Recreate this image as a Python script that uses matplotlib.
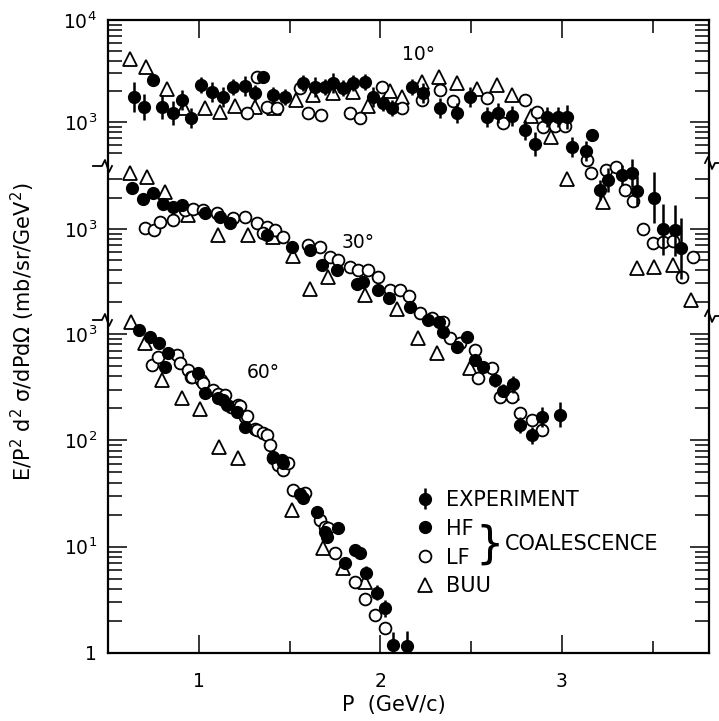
import matplotlib
matplotlib.use("Agg")
import matplotlib.pyplot as plt
import numpy as np
from matplotlib.lines import Line2D
from matplotlib.ticker import FixedLocator, NullFormatter

# ---- 10 deg ----
p10_exp = [0.642, 0.697, 0.796, 0.857, 0.906, 0.956, 1.011, 1.072, 1.132, 1.187, 1.253, 1.309,
           1.408, 1.474, 1.573, 1.639, 1.694, 1.738, 1.793, 1.848, 1.915, 1.959, 2.014, 2.063,
           2.174, 2.234, 2.328, 2.421, 2.493, 2.587, 2.647, 2.725, 2.796, 2.851, 2.917, 2.978,
           3.028, 3.055, 3.130, 3.209, 3.253, 3.331, 3.386, 3.413, 3.507, 3.556, 3.623, 3.656]
y10_exp = [1758, 1403, 1403, 1225, 1644, 1094, 2305, 1967, 1758, 2203, 2254, 1923,
           1840, 1758, 2412, 2203, 2203, 2412, 2154, 2412, 2467, 1758, 1535, 1371,
           2203, 1923, 1371, 1225, 1758, 1120, 1225, 1146, 835, 608, 1120, 1120,
           1120, 569, 520, 215, 270, 302, 316, 211, 180, 89, 87, 58]
e10_exp = [0.15, 0.13, 0.12, 0.12, 0.10, 0.10, 0.08, 0.10, 0.10, 0.08, 0.10, 0.08,
           0.08, 0.08, 0.08, 0.10, 0.08, 0.10, 0.08, 0.08, 0.08, 0.10, 0.08, 0.08,
           0.08, 0.10, 0.10, 0.10, 0.10, 0.10, 0.10, 0.10, 0.10, 0.12, 0.10, 0.10,
           0.12, 0.10, 0.10, 0.10, 0.12, 0.10, 0.14, 0.15, 0.25, 0.25, 0.25, 0.30]
p10_hf = [0.747, 1.353, 3.165]
y10_hf = [2585, 2762, 746]
p10_lf = [1.320, 1.264, 1.375, 1.430, 1.556, 1.601, 1.672, 1.832, 1.887, 2.008, 2.118, 2.229,
          2.328, 2.399, 2.587, 2.675, 2.796, 2.862, 2.895, 2.961, 3.017, 3.138, 3.160, 3.242,
          3.298, 3.347, 3.391, 3.446, 3.501, 3.556, 3.612, 3.661, 3.722]
y10_lf = [2762, 1225, 1403, 1371, 2154, 1225, 1171, 1225, 1094, 2203, 1371, 1644,
          2058, 1590, 1719, 977, 1644, 1253, 893, 914, 914, 424, 316, 338,
          362, 215, 168, 89, 65, 67, 68, 30, 47]
p10_buu = [0.620, 0.708, 0.824, 0.917, 1.033, 1.116, 1.198, 1.309, 1.413, 1.534, 1.628, 1.738,
           1.848, 1.931, 2.052, 2.118, 2.229, 2.322, 2.421, 2.532, 2.642, 2.725, 2.829, 2.939,
           3.028, 3.226, 3.413, 3.507, 3.612, 3.711]
y10_buu = [4150, 3460, 2110, 1371, 1371, 1253, 1434, 1403, 1371, 1644, 1840, 1923,
           1967, 1434, 2014, 1758, 2467, 2762, 2412, 2110, 2305, 1840, 1146, 713,
           276, 164, 37, 38, 40, 18]

# ---- 30 deg ----
p30_exp = [0.631, 0.691, 0.802, 0.857, 0.906, 1.116, 1.171, 1.512, 1.612, 1.678, 1.871, 1.904,
           1.986, 2.047, 2.163, 2.262, 2.322, 2.421, 2.477, 2.565, 2.631, 2.675, 2.730, 2.769,
           2.835, 2.890, 2.989]
y30_exp = [2477, 1943, 1739, 1629, 1701, 1304, 1142, 671, 628, 451, 296, 309,
           259, 217, 178, 133, 128, 73, 92, 47, 35, 28, 32, 13,
           10.4, 15.6, 16.3]
e30_exp = [0.04, 0.04, 0.04, 0.04, 0.04, 0.04, 0.04, 0.04, 0.04, 0.04, 0.04, 0.04,
           0.04, 0.04, 0.04, 0.05, 0.05, 0.05, 0.06, 0.06, 0.06, 0.06, 0.08, 0.08,
           0.08, 0.10, 0.12]
p30_hf = [0.747, 1.033, 1.375, 1.760, 2.344, 2.521]
y30_hf = [2219, 1425, 876, 404, 102, 55]
p30_lf = [0.702, 0.752, 0.785, 0.857, 0.923, 0.967, 1.022, 1.099, 1.187, 1.253, 1.320, 1.375,
          1.353, 1.419, 1.463, 1.601, 1.667, 1.722, 1.766, 1.832, 1.876, 1.931, 1.986, 2.052,
          2.107, 2.157, 2.218, 2.284, 2.344, 2.383, 2.438, 2.521, 2.537, 2.614, 2.658, 2.725,
          2.769, 2.835, 2.890]
y30_lf = [1022, 978, 1168, 1221, 1523, 1557, 1523, 1425, 1276, 1304, 1142, 1045,
          915, 978, 838, 701, 671, 538, 503, 432, 404, 404, 345, 259,
          259, 227, 156, 139, 128, 90, 80, 69, 37, 46, 24, 24,
          17, 14.6, 11.7]
p30_buu = [0.620, 0.713, 0.813, 0.939, 1.105, 1.270, 1.408, 1.518, 1.612, 1.711, 1.915, 2.091,
           2.207, 2.311, 2.493, 2.725]
y30_buu = [3453, 3162, 2270, 1363, 876, 876, 838, 550, 265, 345, 232, 170,
           90, 64, 46, 26.5]

# ---- 60 deg ----
p60_exp = [0.669, 0.730, 0.780, 0.829, 0.813, 0.994, 1.033, 1.132, 1.154, 1.209, 1.253, 1.408,
           1.457, 1.556, 1.573, 1.650, 1.705, 1.766, 1.804, 1.860, 1.920, 1.981, 2.025, 2.069,
           2.146]
y60_exp = [1093, 940, 824, 664, 490, 430, 279, 240, 215, 185, 134, 70,
           65, 31, 29, 21, 12.3, 15, 7.0, 9.3, 5.7, 3.7, 2.65, 1.19,
           1.16]
e60_exp = [0.03, 0.03, 0.03, 0.03, 0.03, 0.03, 0.03, 0.03, 0.03, 0.03, 0.03, 0.03,
           0.03, 0.04, 0.04, 0.04, 0.05, 0.05, 0.05, 0.05, 0.06, 0.07, 0.08, 0.12,
           0.14]
p60_hf = [1.105, 1.463, 1.694, 1.887]
y60_hf = [250, 61, 13.7, 8.7]
p60_lf = [0.741, 0.774, 0.879, 0.895, 0.939, 0.956, 0.961, 1.011, 1.022, 1.077, 1.105, 1.143,
          1.176, 1.215, 1.226, 1.253, 1.264, 1.309, 1.320, 1.353, 1.375, 1.391, 1.408, 1.435,
          1.463, 1.490, 1.518, 1.584, 1.667, 1.694, 1.711, 1.749, 1.860, 1.915, 1.970, 2.025]
y60_lf = [512, 609, 636, 535, 459, 395, 395, 370, 347, 298, 273, 267,
          206, 215, 211, 166, 170, 128, 125, 117, 112, 91, 68, 59,
          53, 61, 34, 32, 18, 15.3, 15, 8.7, 4.7, 3.2, 2.28, 1.72]
p60_buu = [0.625, 0.702, 0.796, 0.906, 1.006, 1.110, 1.215, 1.512, 1.683, 1.793, 1.915]
y60_buu = [1300, 824, 370, 250, 197, 87, 68, 22, 9.7, 6.3, 4.7]

LW = 1.3
MS = 8.5


def draw_panel(ax, p_exp, y_exp, e_exp, p_hf, y_hf, p_lf, y_lf, p_buu, y_buu):
    ax.set_yscale("log")
    buu, = ax.plot(p_buu, y_buu, "^", ls="none", ms=MS + 1, mfc="white", mec="k", mew=LW)
    lf, = ax.plot(p_lf, y_lf, "o", ls="none", ms=MS, mfc="white", mec="k", mew=LW)
    hf, = ax.plot(p_hf, y_hf, "o", ls="none", ms=MS, color="k")
    y = np.array(y_exp, dtype=float)
    f = 10 ** np.array(e_exp)
    exp = ax.errorbar(p_exp, y, yerr=[y - y / f, y * f - y], fmt="o", color="k",
                      ms=MS, elinewidth=1.8, capsize=0)
    return exp, hf, lf, buu


def set_yticks(ax, majors, labels, minors):
    ax.yaxis.set_major_locator(FixedLocator(majors))
    ax.yaxis.set_minor_locator(FixedLocator(minors))
    ax.set_yticks(majors, labels)
    ax.yaxis.set_minor_formatter(NullFormatter())
    ax.tick_params(axis="y", which="both", direction="in", left=True, right=True,
                   width=1.1, labelsize=13.5, pad=8)
    ax.tick_params(axis="y", which="major", length=14)
    ax.tick_params(axis="y", which="minor", length=10)


W, H = 719, 721
fig = plt.figure(figsize=(W / 100, H / 100), dpi=100)
x0, x1, y0, y1 = 108, 709, 20, 653
rect = [x0 / W, 1 - y1 / H, (x1 - x0) / W, (y1 - y0) / H]

ax60 = fig.add_axes(rect)
ax30 = fig.add_axes(rect, sharex=ax60)
ax10 = fig.add_axes(rect, sharex=ax60)

exp60, hf60, lf60, buu60 = draw_panel(ax60, p60_exp, y60_exp, e60_exp, p60_hf, y60_hf,
                                      p60_lf, y60_lf, p60_buu, y60_buu)
draw_panel(ax30, p30_exp, y30_exp, e30_exp, p30_hf, y30_hf, p30_lf, y30_lf, p30_buu, y30_buu)
draw_panel(ax10, p10_exp, y10_exp, e10_exp, p10_hf, y10_hf, p10_lf, y10_lf, p10_buu, y10_buu)

ax60.set_xlim(0.5, 3.81)
ax10.set_ylim(10 ** -2.206, 1e4)
ax30.set_ylim(10 ** -1.077, 10 ** 5.010)
ax60.set_ylim(1, 10 ** 5.955)

set_yticks(ax10, [1e3, 1e4], [r"$\mathregular{10^3}$", r"$\mathregular{10^4}$"],
           [500, 600, 700, 800, 900, 2000, 3000, 4000, 5000, 6000, 7000, 8000, 9000])
set_yticks(ax30, [1e3], [r"$\mathregular{10^3}$"],
           [200, 300, 400, 500, 600, 700, 800, 900, 2000, 3000])
set_yticks(ax60, [1, 10, 100, 1000],
           ["1", r"$\mathregular{10^1}$", r"$\mathregular{10^2}$", r"$\mathregular{10^3}$"],
           [2, 3, 4, 5, 6, 7, 8, 9, 20, 30, 40, 50, 60, 70, 80, 90,
            200, 300, 400, 500, 600, 700, 800, 900])

for ax in (ax10, ax30):
    ax.patch.set_visible(False)
    for s in ax.spines.values():
        s.set_visible(False)
    ax.tick_params(axis="x", which="both", bottom=False, top=False, labelbottom=False)

for s in ax60.spines.values():
    s.set_linewidth(1.6)
ax60.set_xticks([1, 2, 3], ["1", "2", "3"])
ax60.xaxis.set_minor_locator(FixedLocator([1.5, 2.5, 3.5]))
ax60.tick_params(axis="x", which="both", direction="in", top=True, bottom=True,
                 width=1.1, labelsize=13.5, pad=14)
ax60.tick_params(axis="x", which="major", length=13)
ax60.tick_params(axis="x", which="minor", length=9)

ax60.set_xlabel("P  (GeV/c)", fontsize=15)
ax60.xaxis.set_label_coords((394 - x0) / (x1 - x0), -(695 - y1) / (y1 - y0))
ax60.set_ylabel(r"E/P$^2$ d$^2$ σ/dPdΩ (mb/sr/GeV$^2$)", fontsize=15)
ax60.yaxis.set_label_coords(-(x0 - 37) / (x1 - x0), (y1 - 332) / (y1 - y0))

# angle labels
for txt, px, py in [("10°", 418, 55), ("30°", 358, 243), ("60°", 263, 372)]:
    ax60.text((px - x0) / (x1 - x0), (y1 - py) / (y1 - y0), txt, transform=ax60.transAxes,
              ha="center", va="center", fontsize=13.5)

# legend
ax60.legend([exp60, hf60, lf60, buu60], ["EXPERIMENT", "HF", "LF", "BUU"],
            loc="upper left", bbox_to_anchor=(416 / W, 1 - 490 / H),
            bbox_transform=fig.transFigure, frameon=False, fontsize=15,
            handlelength=0.9, handletextpad=0.55, labelspacing=0.42,
            borderpad=0, borderaxespad=0)
fig.text(490 / W, 1 - 545 / H, "}", fontsize=32, ha="center", va="center")
fig.text(505 / W, 1 - 544 / H, "COALESCENCE", fontsize=15, ha="left", va="center")

# axis breaks
def zigzag(xs, ys, side):
    pts = [(-15, 0), (-6, 0), (-3, -6), (1, 6), (4, 0)]
    if side == "right":
        pts = [(-4, 0), (-1, -6), (3, 6), (6, 0), (11, 0)]
    xx = [(xs + dx) / W for dx, dy in pts]
    yy = [1 - (ys + dy) / H for dx, dy in pts]
    fig.add_artist(Line2D(xx, yy, color="k", lw=1.3))


zigzag(108, 166, "left")
zigzag(108, 320, "left")
zigzag(709, 163, "right")
zigzag(709, 316, "right")

fig.savefig("out.png", dpi=100)
